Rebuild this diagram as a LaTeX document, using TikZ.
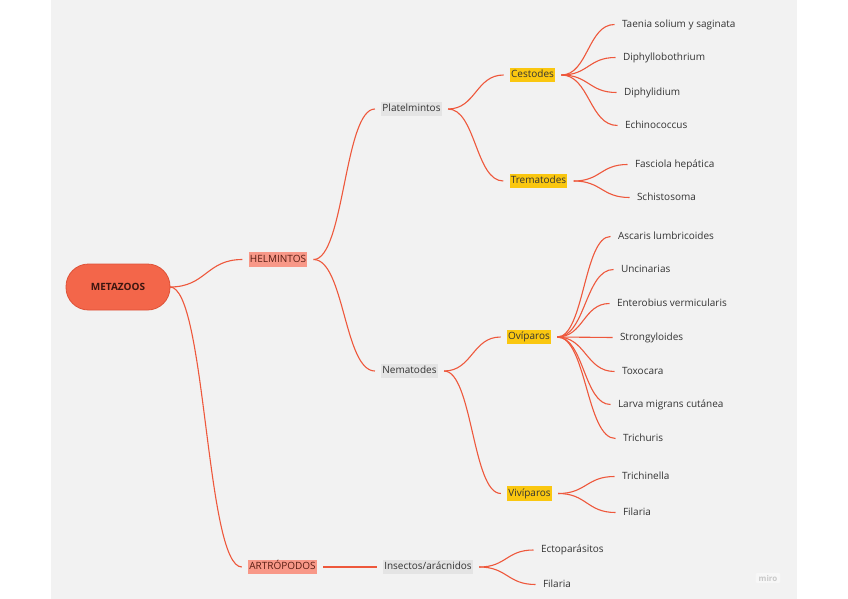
\documentclass[tikz,border=0pt]{standalone}
\usepackage{fontspec}
\setmainfont{Open Sans}
\usetikzlibrary{calc}
\definecolor{panel}{RGB}{242,242,242}
\definecolor{linkc}{RGB}{238,88,60}
\definecolor{rootfill}{RGB}{243,102,74}
\definecolor{rootdraw}{RGB}{222,82,56}
\definecolor{roottext}{RGB}{60,22,16}
\definecolor{salmon}{RGB}{248,152,136}
\definecolor{salmontext}{RGB}{90,30,20}
\definecolor{mustard}{RGB}{250,199,16}
\definecolor{lgray}{RGB}{228,228,228}
\definecolor{txt}{RGB}{51,51,51}
\definecolor{wmtext}{RGB}{200,200,200}
\definecolor{wmfill}{RGB}{247,247,247}
\tikzset{
  base/.style={font=\fontsize{10}{12}\selectfont, text=txt, inner xsep=1pt, inner ysep=2.5pt,
    text height=7.5pt, text depth=2pt, outer xsep=6.5pt, outer ysep=0pt, yshift=-1.5pt},
  rootbox/.style={font=\bfseries\fontsize{10}{12}\selectfont, text=roottext, fill=rootfill, draw=rootdraw,
    line width=0.8pt, rounded corners=22.5pt, minimum width=104pt, minimum height=46pt, outer sep=0pt},
  lvlone/.style={base, fill=salmon, text=salmontext},
  lvltwo/.style={base, fill=lgray},
  lvlthree/.style={base, fill=mustard},
  leaf/.style={base, anchor=west},
  link/.style={draw=linkc, line width=1.1pt,
    to path={let \p1=(\tikztostart), \p2=(\tikztotarget) in
      .. controls ({(\x1+\x2)/2},\y1) and ({(\x1+\x2)/2},\y2) .. (\tikztotarget)}},
}
\begin{document}
\begin{tikzpicture}[x=1pt,y=-1pt]
\useasboundingbox (0,0) rectangle (848,599);
\fill[panel] (51,0) rectangle (797,599);

% main nodes
\node[rootbox] (root) at (118,287) {METAZOOS};
\node[lvlone] (hel) at (278,258) {HELMINTOS};
\node[lvlone] (art) at (282.5,565.5) {ARTRÓPODOS};
\node[lvltwo] (pla) at (411.5,107.5) {Platelmintos};
\node[lvltwo] (nem) at (409.5,369.5) {Nematodes};
\node[lvltwo] (ins) at (428,565.5) {Insectos/arácnidos};
\node[lvlthree] (ces) at (532.5,73.5) {Cestodes};
\node[lvlthree] (tre) at (538.5,179.5) {Trematodes};
\node[lvlthree] (ovi) at (529,335.5) {Ovíparos};
\node[lvlthree] (viv) at (529.5,492) {Vivíparos};

% leaves
\node[leaf] (taenia) at (614.5,23) {Taenia solium y saginata};
\node[leaf] (diphyllo) at (615.5,56) {Diphyllobothrium};
\node[leaf] (diphyl) at (616.5,91) {Diphylidium};
\node[leaf] (echino) at (617.5,124) {Echinococcus};
\node[leaf] (fasciola) at (627.5,163) {Fasciola hepática};
\node[leaf] (schisto) at (629.5,196) {Schistosoma};
\node[leaf] (ascaris) at (610.5,235) {Ascaris lumbricoides};
\node[leaf] (uncin) at (613.5,268) {Uncinarias};
\node[leaf] (entero) at (609.5,302) {Enterobius vermicularis};
\node[leaf] (strongy) at (612.5,336) {Strongyloides};
\node[leaf] (toxo) at (614.5,370) {Toxocara};
\node[leaf] (larva) at (610.5,403) {Larva migrans cutánea};
\node[leaf] (trichu) at (615.5,437) {Trichuris};
\node[leaf] (trichin) at (614.5,475) {Trichinella};
\node[leaf] (filariaA) at (615.5,511) {Filaria};
\node[leaf] (ecto) at (533.5,548.5) {Ectoparásitos};
\node[leaf] (filariaB) at (535.5,583) {Filaria};

% watermark
\node[font=\bfseries\fontsize{8}{9}\selectfont, text=wmtext, fill=wmfill, rounded corners=2pt,
  inner xsep=3pt, inner ysep=2pt] (miro) at (768,578) {miro};

% connectors
\draw[link] (root.east) to (hel.west);
\draw[link] (root.east) to (art.west);
\draw[link] (hel.east) to (pla.west);
\draw[link] (hel.east) to (nem.west);
\draw[link] (art.east) to (ins.west);
\draw[link] (pla.east) to (ces.west);
\draw[link] (pla.east) to (tre.west);
\draw[link] (nem.east) to (ovi.west);
\draw[link] (nem.east) to (viv.west);
\foreach \l in {taenia,diphyllo,diphyl,echino} \draw[link] (ces.east) to (\l.west);
\foreach \l in {fasciola,schisto} \draw[link] (tre.east) to (\l.west);
\foreach \l in {ascaris,uncin,entero,strongy,toxo,larva,trichu} \draw[link] (ovi.east) to (\l.west);
\foreach \l in {trichin,filariaA} \draw[link] (viv.east) to (\l.west);
\foreach \l in {ecto,filariaB} \draw[link] (ins.east) to (\l.west);
\end{tikzpicture}
\end{document}
